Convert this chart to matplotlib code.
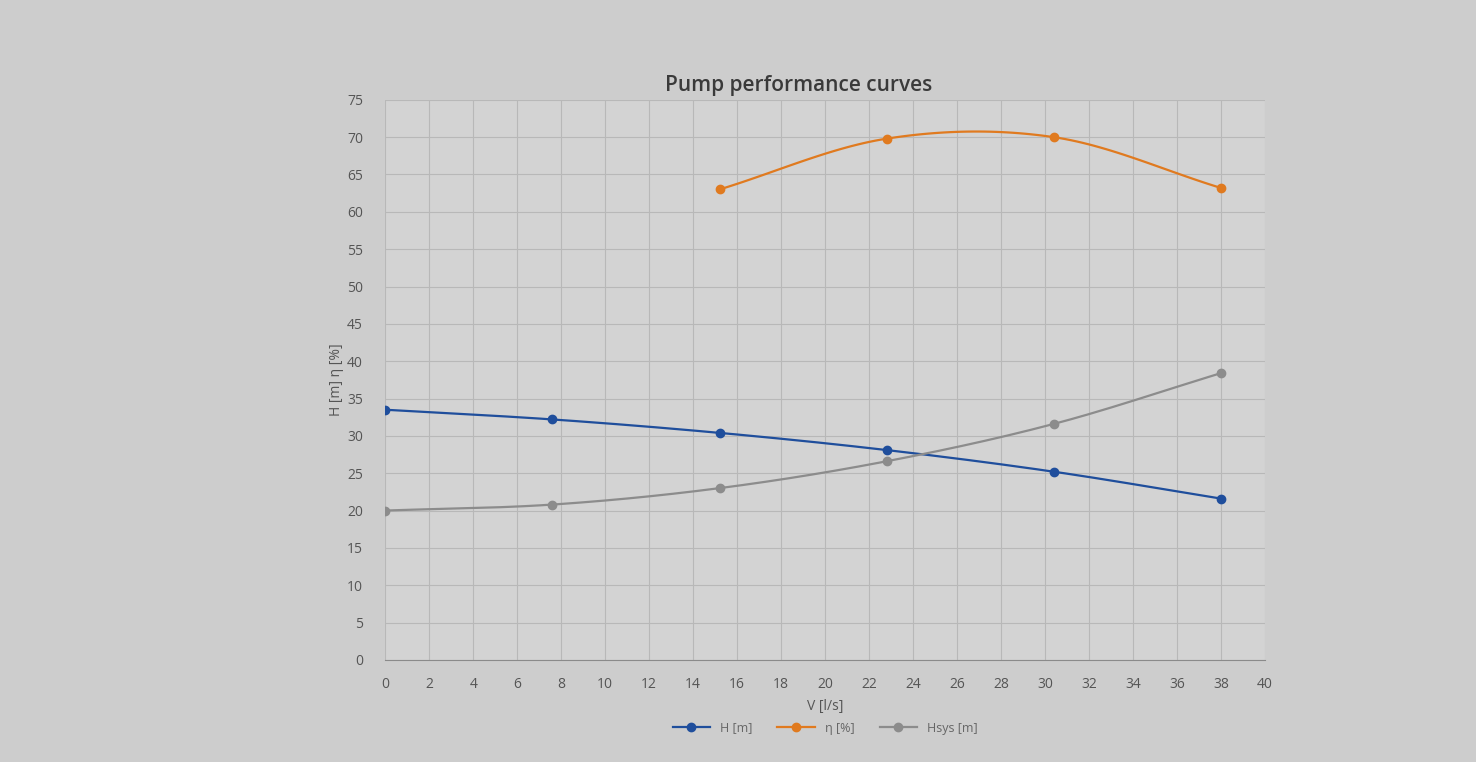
import numpy as np
import matplotlib
matplotlib.use('Agg')
import matplotlib.pyplot as plt

# values
flow = [0, 7.6, 15.2, 22.8, 30.4, 38.0]
head = [33.5, 32.2, 30.4, 28.1, 25.2, 21.6]
eff_flow = [15.2, 22.8, 30.4, 38.0]
eff = [63.0, 69.8, 70.0, 63.2]
head_sys = [20.0, 20.8, 23.0, 26.6, 31.6, 38.4]

x_ticks = list(range(0, 41, 2))
y_ticks = list(range(0, 76, 5))


# Catmull-Rom style smoothing, like Excel's "smoothed line" option
def smooth(xs, ys, n=30):
    xs = np.asarray(xs, float)
    ys = np.asarray(ys, float)
    px = np.concatenate([[2 * xs[0] - xs[1]], xs, [2 * xs[-1] - xs[-2]]])
    py = np.concatenate([[2 * ys[0] - ys[1]], ys, [2 * ys[-1] - ys[-2]]])
    out_x, out_y = [], []
    t = np.linspace(0, 1, n)
    for i in range(1, len(px) - 2):
        for p, out in ((px, out_x), (py, out_y)):
            p0, p1, p2, p3 = p[i - 1], p[i], p[i + 1], p[i + 2]
            out.extend(0.5 * (2 * p1 + (-p0 + p2) * t
                              + (2 * p0 - 5 * p1 + 4 * p2 - p3) * t ** 2
                              + (-p0 + 3 * p1 - 3 * p2 + p3) * t ** 3))
    return out_x, out_y


plt.rcParams['font.family'] = ['Open Sans', 'DejaVu Sans']

fig = plt.figure(figsize=(14.76, 7.62), dpi=100, facecolor='#cdcdcd')
ax = fig.add_axes([0.261, 0.134, 0.596, 0.735], facecolor='#d3d3d3')

series = [
    (flow, head, '#1f4e9c', 'H [m]'),
    (eff_flow, eff, '#e07a1f', 'η [%]'),
    (flow, head_sys, '#8c8c8c', 'Hsys [m]'),
]
for xs, ys, color, label in series:
    sx, sy = smooth(xs, ys)
    ax.plot(sx, sy, color=color, lw=1.6)
    ax.plot(xs, ys, 'o', color=color, ms=6)
    ax.plot([], [], '-o', color=color, lw=1.6, ms=6, label=label)

ax.set_xlim(0, 40)
ax.set_ylim(0, 75)
ax.set_xticks(x_ticks)
ax.set_yticks(y_ticks)
ax.grid(True, color='#b8b8b8', lw=0.8)
for s in ax.spines.values():
    s.set_visible(False)
ax.spines['bottom'].set_visible(True)
ax.spines['bottom'].set_color('#8a8a8a')
ax.tick_params(length=0, colors='#555555', labelsize=10, pad=12)
ax.tick_params(axis='y', pad=16)

ax.set_title('Pump performance curves', fontsize=15, color='#3a3a3a',
             weight='semibold', x=0.47, pad=6)
ax.set_xlabel('V [l/s]', fontsize=10, color='#555555', labelpad=5)
ax.set_ylabel('H [m] η [%]', fontsize=10, color='#555555', labelpad=2)

ax.legend(loc='upper center', bbox_to_anchor=(0.5, -0.09), ncol=3,
          frameon=False, fontsize=9, labelcolor='#666666', handlelength=3)

fig.savefig('out.png', dpi=100, facecolor=fig.get_facecolor())
